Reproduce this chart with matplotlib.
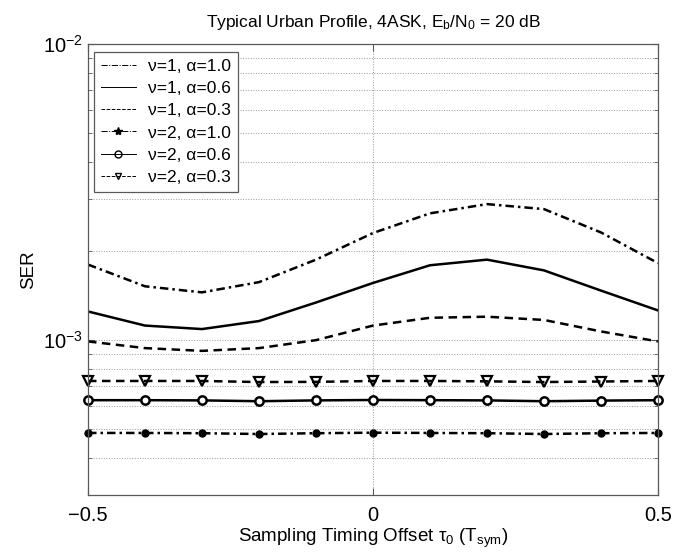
import matplotlib
matplotlib.use("Agg")
import matplotlib.pyplot as plt
import numpy as np
from matplotlib import ticker
from matplotlib.lines import Line2D

plt.rcParams["font.family"] = ["Liberation Sans", "DejaVu Sans"]
plt.rcParams["mathtext.fontset"] = "custom"
plt.rcParams["mathtext.rm"] = "Liberation Sans"
plt.rcParams["mathtext.it"] = "Liberation Sans:italic"
plt.rcParams["mathtext.default"] = "rm"

# Sampling timing offset (T_sym)
tau = [-0.5, -0.4, -0.3, -0.2, -0.1, 0.0, 0.1, 0.2, 0.3, 0.4, 0.5]

# SER values (units of 1e-3)
ser_nu1_a10 = [1.80, 1.52, 1.45, 1.57, 1.87, 2.30, 2.68, 2.88, 2.77, 2.31, 1.82]
ser_nu1_a06 = [1.25, 1.12, 1.09, 1.16, 1.34, 1.56, 1.79, 1.87, 1.72, 1.47, 1.26]
ser_nu1_a03 = [0.99, 0.94, 0.92, 0.94, 1.00, 1.12, 1.19, 1.20, 1.17, 1.07, 0.99]
ser_nu2_a10 = [0.486, 0.486, 0.485, 0.482, 0.485, 0.487, 0.486, 0.485, 0.482, 0.485, 0.486]
ser_nu2_a06 = [0.627, 0.627, 0.626, 0.622, 0.626, 0.628, 0.627, 0.626, 0.622, 0.625, 0.627]
ser_nu2_a03 = [0.728, 0.728, 0.728, 0.722, 0.723, 0.728, 0.728, 0.726, 0.722, 0.725, 0.728]

labels = [r"ν=1, α=1.0", r"ν=1, α=0.6", r"ν=1, α=0.3",
          r"ν=2, α=1.0", r"ν=2, α=0.6", r"ν=2, α=0.3"]

x = np.array(tau)
scale = 1e-3

fig = plt.figure(figsize=(6.91, 5.52), dpi=100)
ax = fig.add_axes([88 / 691, 1 - 495 / 552, 570 / 691, 451 / 552])

lw = 1.8
dashdot = (3.4, 1.6, 1.0, 1.6)
dashed = (3.4, 2.2)

ax.plot(x, np.array(ser_nu1_a10) * scale, color="k", lw=lw, dashes=dashdot)
ax.plot(x, np.array(ser_nu1_a06) * scale, color="k", lw=lw, ls="-")
ax.plot(x, np.array(ser_nu1_a03) * scale, color="k", lw=lw, dashes=dashed)
ax.plot(x, np.array(ser_nu2_a10) * scale, color="k", lw=lw, dashes=dashdot,
        marker="o", ms=5, mfc="k", mec="k", clip_on=False)
ax.plot(x, np.array(ser_nu2_a06) * scale, color="k", lw=lw, ls="-",
        marker="o", ms=6, mfc="white", mec="k", mew=1.8, clip_on=False)
ax.plot(x, np.array(ser_nu2_a03) * scale, color="k", lw=lw, dashes=dashed,
        marker="v", ms=7, mfc="none", mec="k", mew=1.6, clip_on=False)

ax.set_yscale("log")
ax.set_ylim(3e-4, 1e-2)
ax.set_xlim(-0.5, 0.5)
ax.set_xticks([-0.5, 0.0, 0.5])
ax.xaxis.set_major_formatter(
    ticker.FuncFormatter(lambda v, p: f"{v:g}".replace("-", "\u2212")))
ax.yaxis.set_minor_formatter(ticker.NullFormatter())

ax.grid(True, which="both", axis="y", ls=":", color="0.6", lw=0.7)
ax.grid(True, which="major", axis="x", ls=":", color="0.6", lw=0.7)

for sp in ax.spines.values():
    sp.set_color("0.35")
    sp.set_linewidth(0.9)
ax.tick_params(which="both", direction="in", top=True, right=True,
               color="0.35", labelsize=14.5)
ax.tick_params(which="major", length=5)
ax.tick_params(which="minor", length=3)
ax.tick_params(axis="x", pad=8)

ax.set_title("Typical Urban Profile, 4ASK, E$_\\mathrm{b}$/N$_\\mathrm{0}$ = 20 dB",
             fontsize=12.5, pad=12)
ax.set_ylabel("SER", fontsize=13.5)
ax.yaxis.set_label_coords(-0.09, 0.5)
ax.set_xlabel("Sampling Timing Offset τ$_\\mathrm{0}$ (T$_\\mathrm{sym}$)", fontsize=13.5)
ax.xaxis.set_label_coords(0.5, -0.07)

# thin legend samples, as in the original figure
handles = [
    Line2D([], [], color="k", lw=0.7, ls="-."),
    Line2D([], [], color="k", lw=0.7, ls="-"),
    Line2D([], [], color="k", lw=0.7, ls="--"),
    Line2D([], [], color="k", lw=0.7, ls="-.", marker="*", ms=6),
    Line2D([], [], color="k", lw=0.7, ls="-", marker="o", ms=5, mfc="none"),
    Line2D([], [], color="k", lw=0.7, ls="--", marker="v", ms=5, mfc="none"),
]
leg = ax.legend(handles, labels, loc="upper left", bbox_to_anchor=(0.0105, 0.982),
                borderaxespad=0, fontsize=12.5, fancybox=False, framealpha=1,
                edgecolor="0.35", handlelength=2.0, handletextpad=0.7,
                labelspacing=0.4, borderpad=0.4)
leg.get_frame().set_linewidth(0.9)

fig.savefig("out.png", dpi=100)
